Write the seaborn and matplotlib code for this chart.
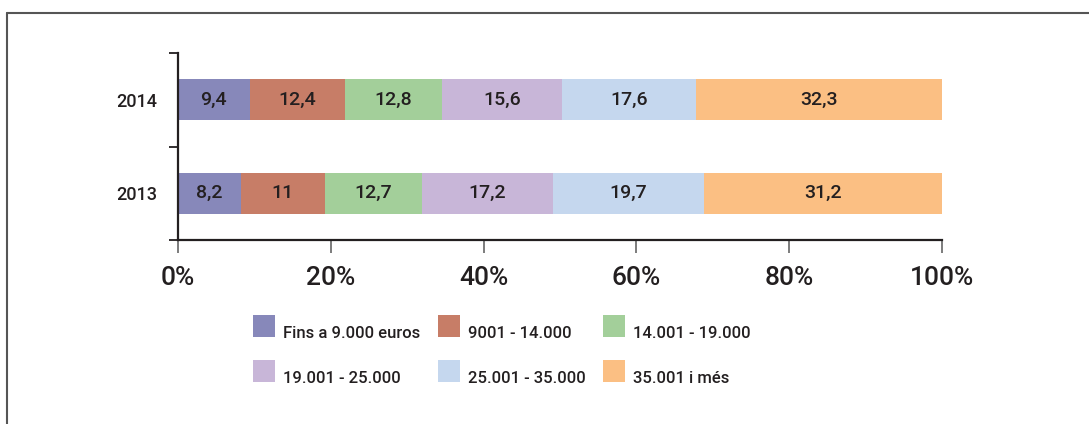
import numpy as np
import pandas as pd
import matplotlib
matplotlib.use("Agg")
import matplotlib.pyplot as plt
from matplotlib.lines import Line2D
from matplotlib.patches import Rectangle, Patch
from matplotlib.legend_handler import HandlerPatch
import seaborn as sns

years = ["2014", "2013"]
categories = ["Fins a 9.000 euros", "9001 - 14.000", "14.001 - 19.000",
              "19.001 - 25.000", "25.001 - 35.000", "35.001 i més"]
values_2014 = [9.4, 12.4, 12.8, 15.6, 17.6, 32.3]
values_2013 = [8.2, 11, 12.7, 17.2, 19.7, 31.2]
colors = ["#8788BA", "#C77D67", "#A3CF9A", "#C8B6D8", "#C5D7EE", "#FBBF83"]
xticks = [0, 20, 40, 60, 80, 100]
xtick_labels = ["0%", "20%", "40%", "60%", "80%", "100%"]

sns.set_theme(style="white")
plt.rcParams["font.family"] = ["Roboto", "DejaVu Sans"]
TXT = "#231F20"
WEIGHT = "medium"

W, H = 1089, 424
fig = plt.figure(figsize=(W / 100, H / 100), dpi=100)
ax = fig.add_axes([178 / W, 1 - 240 / H, (942 - 178) / W, (240 - 53) / H])

vals = np.array([values_2014, values_2013])
cum = np.cumsum(vals, axis=1)

for i in range(len(categories) - 1, -1, -1):
    df = pd.DataFrame({"year": years, "cum": cum[:, i]})
    sns.barplot(data=df, x="cum", y="year", orient="h", color=colors[i],
                saturation=1, width=0.44, ax=ax, linewidth=0, order=years)

for r in range(len(years)):
    for i in range(len(categories)):
        v = vals[r, i]
        ax.text(cum[r, i] - v / 2, r, f"{v:g}".replace(".", ","),
                ha="center", va="center", fontsize=14, color=TXT, fontweight=WEIGHT)

ax.set_xlim(0, 100)
ax.set_ylim(1.5, -0.5)
ax.set_xlabel("")
ax.set_ylabel("")
ax.set_xticks(xticks)
ax.set_xticklabels(xtick_labels, fontsize=19, color=TXT, fontweight=WEIGHT)
ax.tick_params(axis="x", direction="out", length=9, width=1.2, color="#666666",
               pad=10, bottom=True)
ax.set_yticks([0, 1])
ax.set_yticklabels(years, fontsize=13, color=TXT, fontweight=WEIGHT)
ax.set_yticks([-0.5, 0.5, 1.5], minor=True)
ax.tick_params(axis="y", which="major", length=0, pad=15)
ax.tick_params(axis="y", which="minor", direction="out", length=6.5, width=1.3,
               color=TXT, left=True)
for s in ["top", "right"]:
    ax.spines[s].set_visible(False)
for s in ["left", "bottom"]:
    ax.spines[s].set_color(TXT)
    ax.spines[s].set_linewidth(1.6)
ax.grid(False)

off = 4.7


def make_patch(legend, orig_handle, xdescent, ydescent, width, height, fontsize):
    return Rectangle((-xdescent, -ydescent + off), width, height)


handles = [Patch(facecolor=c, edgecolor="none", label=l) for c, l in zip(colors, categories)]
ncol = 3
nrow = 2
order = [r * ncol + c for c in range(ncol) for r in range(nrow)]
handles = [handles[k] for k in order]
leg = fig.legend(handles=handles, loc="upper left", ncol=ncol,
                 bbox_to_anchor=(253 / W, 1 - 321.5 / H), borderaxespad=0, borderpad=0,
                 frameon=False, prop={"size": 12, "weight": WEIGHT},
                 handlelength=1.32, handleheight=1.62,
                 handletextpad=0.48, columnspacing=1.05, labelspacing=1.42,
                 handler_map={Patch: HandlerPatch(patch_func=make_patch)})
for t in leg.get_texts():
    t.set_color(TXT)

fig.add_artist(Line2D([6.5 / W, 1], [1 - 13 / H, 1 - 13 / H], transform=fig.transFigure,
                      color="#555555", lw=1.5))
fig.add_artist(Line2D([6.5 / W, 6.5 / W], [0, 1 - 13 / H], transform=fig.transFigure,
                      color="#555555", lw=1.5))

fig.savefig("out.png", dpi=100)
